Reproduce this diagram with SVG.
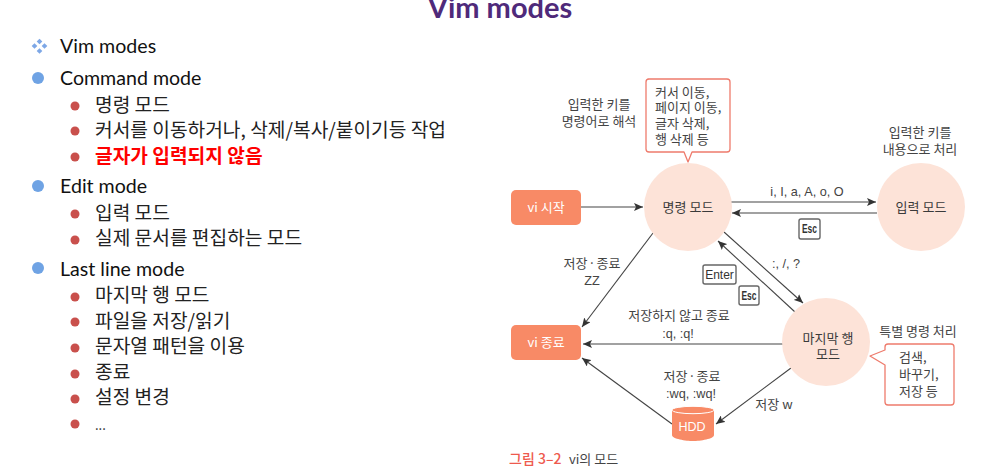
<svg xmlns="http://www.w3.org/2000/svg" width="1003" height="472" viewBox="0 0 1003 472">
<style>
text{font-family:"Noto Sans CJK KR","Noto Sans",sans-serif}
.l{font-family:"Lato","Noto Sans CJK KR",sans-serif;font-size:19.6px;fill:#111}
.k{font-family:"Noto Sans CJK KR",sans-serif;font-size:19.2px;fill:#222}
.d{font-size:13px;fill:#444;text-anchor:middle}
.s{text-anchor:start}
.t{word-spacing:-2px}
.m{font-family:"Liberation Sans",sans-serif;font-size:12.7px}
.n{font-size:13px;fill:#3a3a3a;text-anchor:middle}
.w{font-size:13px;fill:#fff;text-anchor:middle}
.c{fill:#fde3d8}
.o{fill:#f88a66}
.cb{fill:#fff;stroke:#ee7b6c;stroke-width:1.3;stroke-linejoin:round}
.key{fill:#fff;stroke:#666;stroke-width:1.4}
.kt{font-size:12px;fill:#333;text-anchor:middle;font-family:"Liberation Sans",sans-serif}
.e{stroke:#444;stroke-width:1.1;fill:none;marker-end:url(#a)}
.b1{fill:#6fa3e4}
.b2{fill:#c9504c}
</style>
<defs><marker id="a" markerWidth="10" markerHeight="8" refX="9" refY="4" orient="auto" markerUnits="userSpaceOnUse"><path d="M0 0L9 4L0 8L2 4Z" fill="#333"/></marker></defs>
<rect width="1003" height="472" fill="#fff"/>
<text x="500" y="18" text-anchor="middle" style="font-family:Lato,sans-serif;font-size:29px;font-weight:700;fill:#4f2a7a">Vim modes</text>
<g id="bullets">
<g fill="#7da7e6"><rect x="32.500" y="44" width="4" height="4" transform="rotate(45 34.500 46)"/><rect x="42.500" y="44" width="4" height="4" transform="rotate(45 44.500 46)"/><rect x="37.500" y="39.500" width="4" height="4" transform="rotate(45 39.500 41.500)"/><rect x="37.500" y="49" width="4" height="4" transform="rotate(45 39.500 51)"/></g>
<circle class="b1" cx="38" cy="78" r="6"/><circle class="b1" cx="38" cy="186" r="6"/><circle class="b1" cx="38" cy="268" r="6"/>
<circle class="b2" cx="75" cy="106" r="4.500"/><circle class="b2" cx="75" cy="131" r="4.500"/><circle class="b2" cx="75" cy="157" r="4.500"/><circle class="b2" cx="75" cy="214" r="4.500"/><circle class="b2" cx="75" cy="240" r="4.500"/><circle class="b2" cx="75" cy="297" r="4.500"/><circle class="b2" cx="75" cy="322" r="4.500"/><circle class="b2" cx="75" cy="348" r="4.500"/><circle class="b2" cx="75" cy="374" r="4.500"/><circle class="b2" cx="75" cy="399" r="4.500"/><circle class="b2" cx="75" cy="424" r="4.500"/>
</g>
<g id="list">
<text class="l" x="60" y="53">Vim modes</text>
<text class="l" x="60" y="85">Command mode</text>
<text class="k" x="95" y="112">명령 모드</text>
<text class="k" x="95" y="137">커서를 이동하거나, 삭제/복사/붙이기등 작업</text>
<text class="k" x="95" y="163" style="fill:#f00;font-weight:700">글자가 입력되지 않음</text>
<text class="l" x="60" y="193">Edit mode</text>
<text class="k" x="95" y="220">입력 모드</text>
<text class="k" x="95" y="245">실제 문서를 편집하는 모드</text>
<text class="l" x="60" y="276">Last line mode</text>
<text class="k" x="95" y="302">마지막 행 모드</text>
<text class="k" x="95" y="328">파일을 저장/읽기</text>
<text class="k" x="95" y="353">문자열 패턴을 이용</text>
<text class="k" x="95" y="379">종료</text>
<text class="k" x="95" y="404">설정 변경</text>
<text class="k" x="95" y="430" style="font-size:13px">...</text>
</g>
<g id="connectors">
<path class="e" d="M580 207H643"/>
<path class="e" d="M731 202H876"/>
<path class="e" d="M877 213H732"/>
<path class="e" d="M724 232L803 303"/>
<path class="e" d="M795 312L718 241"/>
<path class="e" d="M653 233L582 327"/>
<path class="e" d="M783 344H583"/>
<path class="e" d="M672 424L582 358"/>
<path class="e" d="M791 368L716 424"/>
</g>
<g id="n-start"><rect class="o" x="511" y="190" width="70" height="35" rx="5"/><text class="w" x="546" y="212">vi 시작</text></g>
<g id="n-end"><rect class="o" x="511" y="325" width="70" height="35" rx="5"/><text class="w" x="546" y="347">vi 종료</text></g>
<g id="n-cmd"><circle class="c" cx="688" cy="207" r="44"/><text class="n" x="688" y="212">명령 모드</text></g>
<g id="n-ins"><circle class="c" cx="921" cy="207" r="44"/><text class="n" x="921" y="212">입력 모드</text></g>
<g id="n-last"><circle class="c" cx="826" cy="342" r="44"/><text class="n" x="828" y="343">마지막 행</text><text class="n" x="828" y="359">모드</text></g>
<g id="n-hdd"><path class="o" d="M672 410V435C672 439 686 441 693 441S714 439 714 435V410Z"/><ellipse cx="693" cy="410" rx="21" ry="3.700" class="o" stroke="#fff" stroke-width="1"/><text class="w" x="692" y="431" style="font-size:12.500px;font-family:'Liberation Sans',sans-serif">HDD</text></g>
<g id="callout1"><path class="cb" d="M648 79H727Q730 79 730 82V149Q730 152 727 152H692L688 162L684 152H649Q646 152 646 149V82Q646 79 649 79Z"/>
<text x="655" y="97" class="d s">커서 이동,</text><text x="655" y="112" class="d s">페이지 이동,</text><text x="655" y="128" class="d s">글자 삭제,</text><text x="655" y="144" class="d s">행 삭제 등</text></g>
<g id="callout2"><path class="cb" d="M888 344H951Q954 344 954 347V402Q954 405 951 405H888Q885 405 885 402V365L870 356L885 350V347Q885 344 888 344Z"/>
<text x="899" y="362" class="d s">검색,</text><text x="899" y="379" class="d s">바꾸기,</text><text x="899" y="396" class="d s">저장 등</text></g>
<g id="labels">
<text class="d" x="599" y="109">입력한 키를</text><text class="d" x="599" y="126">명령어로 해석</text>
<text class="d" x="920" y="137">입력한 키를</text><text class="d" x="920" y="154">내용으로 처리</text>
<text class="d m" x="807" y="196">i, I, a, A, o, O</text>
<text class="d m" x="786" y="268">:, /, ?</text>
<text class="d t" x="592" y="268">저장 · 종료</text><text class="d m" x="592" y="285">ZZ</text>
<text class="d" x="679" y="320">저장하지 않고 종료</text><text class="d m" x="678" y="338">:q, :q!</text>
<text class="d t" x="692" y="381">저장 · 종료</text><text class="d m" x="691" y="398">:wq, :wq!</text>
<text class="d" x="774" y="409">저장 w</text>
<text class="d" x="918" y="336">특별 명령 처리</text>
<text x="509" y="464" style="font-size:14px;font-weight:500;fill:#ee5a4e">그림 3–2</text><text x="569" y="464" style="font-size:13px;fill:#444">vi의 모드</text>
</g>
<g id="keys">
<rect class="key" x="799" y="219" width="21" height="20" rx="2"/><text class="kt" x="809.500" y="233" style="font-weight:700" textLength="15" lengthAdjust="spacingAndGlyphs">Esc</text>
<rect class="key" x="703" y="265" width="33" height="19" rx="2"/><text class="kt" x="719.500" y="279">Enter</text>
<rect class="key" x="739" y="286" width="20" height="19" rx="2"/><text class="kt" x="749" y="300" style="font-weight:700" textLength="15" lengthAdjust="spacingAndGlyphs">Esc</text>
</g>
</svg>
